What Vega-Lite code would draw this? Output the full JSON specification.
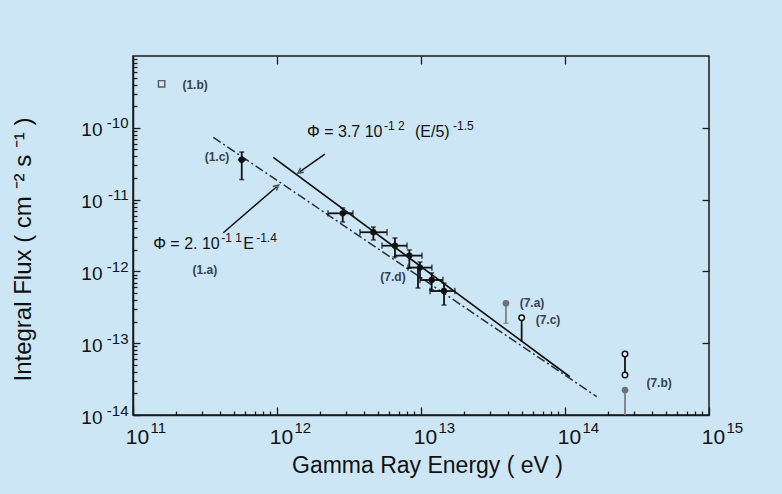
{
  "$schema": "https://vega.github.io/schema/vega-lite/v6.json",
  "width": 576,
  "height": 359,
  "autosize": "none",
  "padding": {"left": 133, "top": 56, "right": 73, "bottom": 79},
  "background": "#cde6f6",
  "config": {
    "view": {"stroke": "#1a1a1a", "strokeWidth": 1.5},
    "axis": {
      "grid": false,
      "domainColor": "#1a1a1a",
      "tickColor": "#1a1a1a",
      "labelColor": "#111111",
      "titleColor": "#111111",
      "labelFont": "Liberation Sans",
      "titleFont": "Liberation Sans",
      "titleFontWeight": "normal",
      "domainWidth": 1.5,
      "tickWidth": 1.3
    },
    "text": {"font": "Liberation Sans"}
  },
  "datasets": {
    "lines": [
      {"series": "fit37", "E": 9.42e11, "F": 3.88e-11},
      {"series": "fit37", "E": 1.08e14, "F": 3.41e-14},
      {"series": "fit2", "E": 3.61e11, "F": 7.38e-11},
      {"series": "fit2", "E": 1.66e14, "F": 1.80e-14}
    ],
    "pts": [
      {"set": "main", "E": 2.86e12, "Elo": 2.26e12, "Ehi": 3.37e12, "F": 6.44e-12, "Flo": 4.88e-12, "Fhi": 7.64e-12},
      {"set": "main", "E": 4.67e12, "Elo": 3.77e12, "Ehi": 5.81e12, "F": 3.51e-12, "Flo": 2.74e-12, "Fhi": 4.15e-12},
      {"set": "main", "E": 6.59e12, "Elo": 5.36e12, "Ehi": 8.0e12, "F": 2.28e-12, "Flo": 1.59e-12, "Fhi": 2.92e-12},
      {"set": "main", "E": 8.30e12, "Elo": 6.59e12, "Ehi": 1.016e13, "F": 1.66e-12, "Flo": 1.11e-12, "Fhi": 1.99e-12},
      {"set": "main", "E": 9.84e12, "Elo": 8.13e12, "Ehi": 1.19e13, "F": 1.13e-12, "Flo": 8.09e-13, "Fhi": 1.35e-12},
      {"set": "main", "E": 1.186e13, "Elo": 9.84e12, "Ehi": 1.42e13, "F": 7.59e-13, "Flo": 5.51e-13, "Fhi": 9.51e-13},
      {"set": "main", "E": 1.445e13, "Elo": 1.156e13, "Ehi": 1.72e13, "F": 5.33e-13, "Flo": 3.40e-13, "Fhi": 6.89e-13},
      {"set": "1c", "E": 5.69e11, "Elo": 5.36e11, "Ehi": 6.1e11, "F": 3.6e-11, "Flo": 1.9e-11, "Fhi": 4.6e-11}
    ],
    "arrows": [
      {"id": "a1", "E": 2.15e12, "F": 4.31e-11, "E2": 1.445e12, "F2": 2.45e-11},
      {"id": "a2", "E": 4.24e11, "F": 3.46e-12, "E2": 9.95e11, "F2": 1.51e-11}
    ],
    "limits": [
      {"id": "7a", "kind": "gray", "E": 3.89e13, "Ftop": 3.60e-13, "Fbot": 1.89e-13},
      {"id": "7c", "kind": "black", "E": 5.0e13, "Ftop": 2.27e-13, "Fbot": 1.05e-13},
      {"id": "7b-up", "kind": "black", "E": 2.61e14, "Ftop": 7.08e-14, "Fbot": 3.61e-14},
      {"id": "7b-low", "kind": "gray", "E": 2.61e14, "Ftop": 2.23e-14, "Fbot": 1.0e-14},
      {"id": "7d", "kind": "black", "E": 9.53e12, "Ftop": 1.15e-12, "Fbot": 5.87e-13}
    ],
    "markers": [
      {"kind": "filled", "E": 3.89e13, "F": 3.60e-13},
      {"kind": "open", "E": 5.0e13, "F": 2.27e-13},
      {"kind": "open", "E": 2.61e14, "F": 7.08e-14},
      {"kind": "open", "E": 2.61e14, "F": 3.61e-14},
      {"kind": "filled", "E": 2.61e14, "F": 2.23e-14}
    ],
    "squares": [
      {"E": 1.58e11, "F": 4.1e-10}
    ],
    "tags": [
      {"text": "(1.b)", "E": 2.7e11, "F": 4.0e-10},
      {"text": "(1.c)", "E": 3.83e11, "F": 3.9e-11},
      {"text": "(1.a)", "E": 3.16e11, "F": 1.045e-12},
      {"text": "(7.d)", "E": 6.39e12, "F": 8.36e-13},
      {"text": "(7.a)", "E": 5.9e13, "F": 3.66e-13},
      {"text": "(7.c)", "E": 7.62e13, "F": 2.1e-13},
      {"text": "(7.b)", "E": 4.5e14, "F": 2.79e-14}
    ],
    "formula": [
      {"f": "a", "part": "base1", "text": "Φ = 3.7 10", "E": 1.616e12, "F": 7.45e-11},
      {"f": "a", "part": "sup1", "text": "-1 2", "E": 1.616e12, "F": 7.45e-11},
      {"f": "a", "part": "base2", "text": "(E/5)", "E": 1.616e12, "F": 7.45e-11},
      {"f": "a", "part": "sup2", "text": "-1.5", "E": 1.616e12, "F": 7.45e-11},
      {"f": "b", "part": "base1", "text": "Φ = 2. 10", "E": 1.38e11, "F": 2.05e-12},
      {"f": "b", "part": "sup1", "text": "-1 1", "E": 1.38e11, "F": 2.05e-12},
      {"f": "b", "part": "base2", "text": "E", "E": 1.38e11, "F": 2.05e-12},
      {"f": "b", "part": "sup2", "text": "-1.4", "E": 1.38e11, "F": 2.05e-12}
    ]
  },
  "resolve": {"axis": {"x": "independent", "y": "independent"}},
  "layer": [
    {
      "data": {"name": "lines"},
      "transform": [{"filter": "datum.series == 'fit37'"}],
      "mark": {"type": "line", "color": "#111111", "strokeWidth": 1.7},
      "encoding": {
        "x": {
          "field": "E", "type": "quantitative",
          "scale": {"type": "log", "domain": [1e11, 1e15], "nice": false},
          "axis": {
            "orient": "bottom",
            "values": [1e11, 1e12, 1e13, 1e14, 1e15],
            "labelExpr": "'10'",
            "tickSize": -8,
            "labelPadding": 19,
            "labelFontSize": 21,
            "labelOffset": 4,
            "labelFlush": false,
            "labelOverlap": false,
            "title": "Gamma Ray Energy  ( eV )",
            "titleFontSize": 23,
            "titleX": 294,
            "titleY": 50,
            "titleBaseline": "middle",
            "titleAlign": "center"
          }
        },
        "y": {
          "field": "F", "type": "quantitative",
          "scale": {"type": "log", "domain": [1e-14, 1e-9], "nice": false},
          "axis": {
            "orient": "left",
            "values": [1e-14, 1e-13, 1e-12, 1e-11, 1e-10],
            "labelExpr": "'10'",
            "tickSize": -7,
            "labelPadding": 38,
            "labelFontSize": 19,
            "labelOffset": 2,
            "labelFlush": false,
            "labelOverlap": false,
            "title": "Integral Flux (  cm ⁻²   s ⁻¹    )",
            "titleFontSize": 24,
            "titleX": -110,
            "titleY": 193,
            "titleBaseline": "middle",
            "titleAlign": "center"
          }
        }
      }
    },
    {
      "data": {"name": "lines"},
      "transform": [{"filter": "datum.series == 'fit2'"}],
      "mark": {"type": "line", "color": "#2a2f38", "strokeWidth": 1.5, "strokeDash": [9, 3, 2, 3]},
      "encoding": {
        "x": {
          "field": "E", "type": "quantitative",
          "axis": {
            "orient": "bottom",
            "values": [2e11, 3e11, 4e11, 5e11, 6e11, 7e11, 8e11, 9e11, 2e12, 3e12, 4e12, 5e12, 6e12, 7e12, 8e12, 9e12, 2e13, 3e13, 4e13, 5e13, 6e13, 7e13, 8e13, 9e13, 2e14, 3e14, 4e14, 5e14, 6e14, 7e14, 8e14, 9e14],
            "tickSize": -4,
            "labels": false,
            "domain": false,
            "title": null
          }
        },
        "y": {
          "field": "F", "type": "quantitative",
          "axis": {
            "orient": "left",
            "values": [2e-14, 3e-14, 4e-14, 5e-14, 6e-14, 7e-14, 8e-14, 9e-14, 2e-13, 3e-13, 4e-13, 5e-13, 6e-13, 7e-13, 8e-13, 9e-13, 2e-12, 3e-12, 4e-12, 5e-12, 6e-12, 7e-12, 8e-12, 9e-12, 2e-11, 3e-11, 4e-11, 5e-11, 6e-11, 7e-11, 8e-11, 9e-11, 2e-10, 3e-10, 4e-10, 5e-10, 6e-10, 7e-10, 8e-10, 9e-10],
            "tickSize": -4,
            "labels": false,
            "domain": false,
            "title": null
          }
        }
      }
    },
    {
      "data": {"name": "pts"},
      "mark": {"type": "rule", "color": "#111111", "strokeWidth": 1.8},
      "encoding": {
        "x": {
          "field": "Elo", "type": "quantitative",
          "axis": {"orient": "top", "values": [1e12, 1e13, 1e14], "tickSize": -8, "labels": false, "domain": false, "title": null}
        },
        "x2": {"field": "Ehi"},
        "y": {
          "field": "F", "type": "quantitative",
          "axis": {"orient": "right", "values": [1e-13, 1e-12, 1e-11, 1e-10], "tickSize": -7, "labels": false, "domain": false, "title": null}
        }
      }
    },
    {
      "data": {"name": "pts"},
      "mark": {"type": "rule", "color": "#111111", "strokeWidth": 1.8},
      "encoding": {
        "x": {
          "field": "E", "type": "quantitative",
          "axis": {
            "orient": "bottom",
            "values": [1e11, 1e12, 1e13, 1e14, 1e15],
            "labelExpr": "datum.value < 3e11 ? '11' : datum.value < 3e12 ? '12' : datum.value < 3e13 ? '13' : datum.value < 3e14 ? '14' : '15'",
            "ticks": false,
            "tickSize": 0,
            "domain": false,
            "labelPadding": 5,
            "labelFontSize": 15,
            "labelAlign": "left",
            "labelOffset": 17,
            "labelFlush": false,
            "labelOverlap": false,
            "title": null
          }
        },
        "y": {
          "field": "Flo", "type": "quantitative",
          "axis": {
            "orient": "left",
            "values": [1e-14, 1e-13, 1e-12, 1e-11, 1e-10],
            "labelExpr": "datum.value < 3e-14 ? '-14' : datum.value < 3e-13 ? '-13' : datum.value < 3e-12 ? '-12' : datum.value < 3e-11 ? '-11' : '-10'",
            "ticks": false,
            "tickSize": 0,
            "domain": false,
            "labelPadding": 5,
            "labelFontSize": 15,
            "labelAlign": "right",
            "labelOffset": -5,
            "labelFlush": false,
            "labelOverlap": false,
            "title": null
          }
        },
        "y2": {"field": "Fhi"}
      }
    },
    {
      "data": {"name": "pts"},
      "transform": [{"filter": "datum.set == 'main'"}],
      "mark": {"type": "point", "shape": "M0,-1L0,1", "filled": false, "stroke": "#111111", "strokeWidth": 1.6, "size": 40},
      "encoding": {
        "x": {"field": "Elo", "type": "quantitative", "axis": null},
        "y": {"field": "F", "type": "quantitative", "axis": null}
      }
    },
    {
      "data": {"name": "pts"},
      "transform": [{"filter": "datum.set == 'main'"}],
      "mark": {"type": "point", "shape": "M0,-1L0,1", "filled": false, "stroke": "#111111", "strokeWidth": 1.6, "size": 40},
      "encoding": {
        "x": {"field": "Ehi", "type": "quantitative", "axis": null},
        "y": {"field": "F", "type": "quantitative", "axis": null}
      }
    },
    {
      "data": {"name": "pts"},
      "mark": {"type": "point", "shape": "M-1,0L1,0", "filled": false, "stroke": "#111111", "strokeWidth": 1.6, "size": 25},
      "encoding": {
        "x": {"field": "E", "type": "quantitative", "axis": null},
        "y": {"field": "Fhi", "type": "quantitative", "axis": null}
      }
    },
    {
      "data": {"name": "pts"},
      "mark": {"type": "point", "shape": "M-1,0L1,0", "filled": false, "stroke": "#111111", "strokeWidth": 1.6, "size": 25},
      "encoding": {
        "x": {"field": "E", "type": "quantitative", "axis": null},
        "y": {"field": "Flo", "type": "quantitative", "axis": null}
      }
    },
    {
      "data": {"name": "pts"},
      "mark": {"type": "point", "shape": "circle", "filled": true, "color": "#111111", "size": 40, "opacity": 1},
      "encoding": {
        "x": {"field": "E", "type": "quantitative", "axis": null},
        "y": {"field": "F", "type": "quantitative", "axis": null}
      }
    },
    {
      "data": {"name": "arrows"},
      "mark": {"type": "rule", "color": "#111111", "strokeWidth": 1.5},
      "encoding": {
        "x": {"field": "E", "type": "quantitative", "axis": null},
        "x2": {"field": "E2"},
        "y": {"field": "F", "type": "quantitative", "axis": null},
        "y2": {"field": "F2"}
      }
    },
    {
      "data": {"name": "arrows"},
      "transform": [{"filter": "datum.id == 'a1'"}],
      "mark": {"type": "point", "shape": "M-1,1L0,-1L1,1", "filled": false, "stroke": "#111111", "strokeWidth": 1.4, "size": 30, "angle": 234},
      "encoding": {
        "x": {"field": "E2", "type": "quantitative", "axis": null},
        "y": {"field": "F2", "type": "quantitative", "axis": null}
      }
    },
    {
      "data": {"name": "arrows"},
      "transform": [{"filter": "datum.id == 'a2'"}],
      "mark": {"type": "point", "shape": "M-1,1L0,-1L1,1", "filled": false, "stroke": "#111111", "strokeWidth": 1.4, "size": 30, "angle": 49},
      "encoding": {
        "x": {"field": "E2", "type": "quantitative", "axis": null},
        "y": {"field": "F2", "type": "quantitative", "axis": null}
      }
    },
    {
      "data": {"name": "limits"},
      "mark": {"type": "rule", "strokeWidth": 1.8},
      "encoding": {
        "x": {"field": "E", "type": "quantitative", "axis": null},
        "y": {"field": "Ftop", "type": "quantitative", "axis": null},
        "y2": {"field": "Fbot"},
        "color": {"field": "kind", "type": "nominal", "scale": {"domain": ["black", "gray"], "range": ["#111111", "#7d7f84"]}, "legend": null}
      }
    },
    {
      "data": {"name": "limits"},
      "transform": [{"filter": "datum.id == '7d' || datum.id == '7a'"}],
      "mark": {"type": "point", "shape": "M-1,0L1,0", "filled": false, "strokeWidth": 1.6, "size": 25},
      "encoding": {
        "x": {"field": "E", "type": "quantitative", "axis": null},
        "y": {"field": "Fbot", "type": "quantitative", "axis": null},
        "stroke": {"field": "kind", "type": "nominal", "scale": {"domain": ["black", "gray"], "range": ["#111111", "#7d7f84"]}, "legend": null}
      }
    },
    {
      "data": {"name": "markers"},
      "transform": [{"filter": "datum.kind == 'filled'"}],
      "mark": {"type": "point", "shape": "circle", "filled": true, "color": "#6f7176", "size": 45, "opacity": 1},
      "encoding": {
        "x": {"field": "E", "type": "quantitative", "axis": null},
        "y": {"field": "F", "type": "quantitative", "axis": null}
      }
    },
    {
      "data": {"name": "markers"},
      "transform": [{"filter": "datum.kind == 'open'"}],
      "mark": {"type": "point", "shape": "circle", "filled": true, "fill": "#e6f2fa", "stroke": "#111111", "strokeWidth": 1.5, "size": 30, "opacity": 1},
      "encoding": {
        "x": {"field": "E", "type": "quantitative", "axis": null},
        "y": {"field": "F", "type": "quantitative", "axis": null}
      }
    },
    {
      "data": {"name": "squares"},
      "mark": {"type": "point", "shape": "square", "filled": false, "stroke": "#222222", "strokeWidth": 1.4, "size": 40},
      "encoding": {
        "x": {"field": "E", "type": "quantitative", "axis": null},
        "y": {"field": "F", "type": "quantitative", "axis": null}
      }
    },
    {
      "data": {"name": "tags"},
      "mark": {"type": "text", "font": "Liberation Sans", "fontSize": 12, "fontWeight": "bold", "color": "#34414f", "align": "center", "baseline": "middle"},
      "encoding": {
        "x": {"field": "E", "type": "quantitative", "axis": null},
        "y": {"field": "F", "type": "quantitative", "axis": null},
        "text": {"field": "text"}
      }
    },
    {
      "data": {"name": "formula"},
      "transform": [{"filter": "datum.f == 'a' && datum.part == 'base1'"}],
      "mark": {"type": "text", "fontSize": 16, "color": "#111111", "align": "left", "baseline": "alphabetic"},
      "encoding": {
        "x": {"field": "E", "type": "quantitative", "axis": null},
        "y": {"field": "F", "type": "quantitative", "axis": null},
        "text": {"field": "text"}
      }
    },
    {
      "data": {"name": "formula"},
      "transform": [{"filter": "datum.f == 'a' && datum.part == 'sup1'"}],
      "mark": {"type": "text", "fontSize": 12, "color": "#111111", "align": "left", "baseline": "alphabetic", "dx": 77, "dy": -7},
      "encoding": {
        "x": {"field": "E", "type": "quantitative", "axis": null},
        "y": {"field": "F", "type": "quantitative", "axis": null},
        "text": {"field": "text"}
      }
    },
    {
      "data": {"name": "formula"},
      "transform": [{"filter": "datum.f == 'a' && datum.part == 'base2'"}],
      "mark": {"type": "text", "fontSize": 16, "color": "#111111", "align": "left", "baseline": "alphabetic", "dx": 108},
      "encoding": {
        "x": {"field": "E", "type": "quantitative", "axis": null},
        "y": {"field": "F", "type": "quantitative", "axis": null},
        "text": {"field": "text"}
      }
    },
    {
      "data": {"name": "formula"},
      "transform": [{"filter": "datum.f == 'a' && datum.part == 'sup2'"}],
      "mark": {"type": "text", "fontSize": 12, "color": "#111111", "align": "left", "baseline": "alphabetic", "dx": 146, "dy": -7},
      "encoding": {
        "x": {"field": "E", "type": "quantitative", "axis": null},
        "y": {"field": "F", "type": "quantitative", "axis": null},
        "text": {"field": "text"}
      }
    },
    {
      "data": {"name": "formula"},
      "transform": [{"filter": "datum.f == 'b' && datum.part == 'base1'"}],
      "mark": {"type": "text", "fontSize": 16, "color": "#111111", "align": "left", "baseline": "alphabetic"},
      "encoding": {
        "x": {"field": "E", "type": "quantitative", "axis": null},
        "y": {"field": "F", "type": "quantitative", "axis": null},
        "text": {"field": "text"}
      }
    },
    {
      "data": {"name": "formula"},
      "transform": [{"filter": "datum.f == 'b' && datum.part == 'sup1'"}],
      "mark": {"type": "text", "fontSize": 12, "color": "#111111", "align": "left", "baseline": "alphabetic", "dx": 68, "dy": -7},
      "encoding": {
        "x": {"field": "E", "type": "quantitative", "axis": null},
        "y": {"field": "F", "type": "quantitative", "axis": null},
        "text": {"field": "text"}
      }
    },
    {
      "data": {"name": "formula"},
      "transform": [{"filter": "datum.f == 'b' && datum.part == 'base2'"}],
      "mark": {"type": "text", "fontSize": 16, "color": "#111111", "align": "left", "baseline": "alphabetic", "dx": 90},
      "encoding": {
        "x": {"field": "E", "type": "quantitative", "axis": null},
        "y": {"field": "F", "type": "quantitative", "axis": null},
        "text": {"field": "text"}
      }
    },
    {
      "data": {"name": "formula"},
      "transform": [{"filter": "datum.f == 'b' && datum.part == 'sup2'"}],
      "mark": {"type": "text", "fontSize": 12, "color": "#111111", "align": "left", "baseline": "alphabetic", "dx": 103, "dy": -7},
      "encoding": {
        "x": {"field": "E", "type": "quantitative", "axis": null},
        "y": {"field": "F", "type": "quantitative", "axis": null},
        "text": {"field": "text"}
      }
    }
  ]
}
